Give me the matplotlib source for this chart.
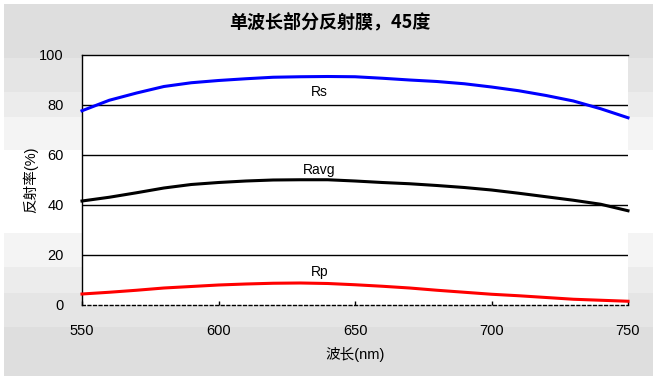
import matplotlib.pyplot as plt
from matplotlib.patches import Rectangle

plt.rcParams['font.family'] = ['Liberation Sans', 'Noto Sans CJK SC']

# wavelength (nm) and reflectance (%)
wavelength = [550, 560, 570, 580, 590, 600, 610, 620, 630, 640, 650,
              660, 670, 680, 690, 700, 710, 720, 730, 740, 750]
rs = [77.7, 81.9, 84.8, 87.4, 88.9, 89.8, 90.5, 91.1, 91.3, 91.4, 91.3,
      90.7, 90.0, 89.4, 88.5, 87.2, 85.7, 83.8, 81.6, 78.5, 74.9]
ravg = [41.6, 43.1, 44.9, 46.8, 48.2, 49.0, 49.6, 50.0, 50.1, 50.1, 49.6,
        49.0, 48.5, 47.8, 47.0, 46.0, 44.7, 43.3, 41.9, 40.3, 37.7]
rp = [4.4, 5.1, 5.9, 6.8, 7.4, 8.0, 8.4, 8.7, 8.8, 8.6, 8.1,
      7.5, 6.8, 5.9, 5.1, 4.3, 3.7, 3.0, 2.3, 1.9, 1.5]

W, H = 660, 382
fig = plt.figure(figsize=(W / 100, H / 100), dpi=100)
fig.patch.set_facecolor('white')

# banded grey background (pixel rows from the top)
bands = [(4, 58, 222), (58, 92, 229), (92, 117, 236), (117, 150, 244),
         (150, 233, 255), (233, 267, 244), (267, 293, 236),
         (293, 327, 229), (327, 376, 222)]
for top, bot, g in bands:
    c = (g / 255,) * 3
    fig.patches.append(Rectangle((4 / W, 1 - bot / H), (653 - 4) / W, (bot - top) / H,
                                 transform=fig.transFigure, facecolor=c,
                                 edgecolor='none', zorder=-10))

ax = fig.add_axes([82 / W, 1 - 305 / H, (628 - 82) / W, (305 - 55) / H])
ax.set_zorder(5)
ax.set_facecolor('white')

ax.plot(wavelength, rs, color='#0000ff', lw=2.2, zorder=3, clip_on=False)
ax.plot(wavelength, ravg, color='black', lw=2.2, zorder=3, clip_on=False)
ax.plot(wavelength, rp, color='#ff0000', lw=2.2, zorder=3, clip_on=False)

ax.text(637, 85.2, 'Rs', ha='center', va='center', fontsize=10)
ax.text(637, 54, 'Ravg', ha='center', va='center', fontsize=10)
ax.text(637, 13.2, 'Rp', ha='center', va='center', fontsize=10)

ax.set_xlim(550, 750)
ax.set_ylim(0, 100)
ax.set_xticks([550, 600, 650, 700, 750])
ax.set_yticks([0, 20, 40, 60, 80, 100])
for y in [20, 40, 60, 80]:
    ax.axhline(y, color='black', lw=1, zorder=1)

ax.spines['right'].set_visible(False)
ax.spines['top'].set_linewidth(1)
ax.spines['left'].set_linewidth(1)
ax.spines['bottom'].set_linestyle((0, (2, 2)))
ax.spines['bottom'].set_linewidth(1)

ax.tick_params(axis='x', direction='in', length=3, width=1, pad=14, labelsize=10.5)
ax.tick_params(axis='y', length=0, pad=13, labelsize=10.5)

ax.set_xlabel('波长(nm)', fontsize=10.5, labelpad=6)
ax.set_ylabel('反射率(%)', fontsize=10.5, labelpad=1)

fig.text(330 / W, 1 - 22 / H, '单波长部分反射膜，45度', ha='center', va='center',
         fontsize=13, fontweight='bold', family=['Noto Sans CJK SC'])

fig.savefig('out.png', dpi=100)
